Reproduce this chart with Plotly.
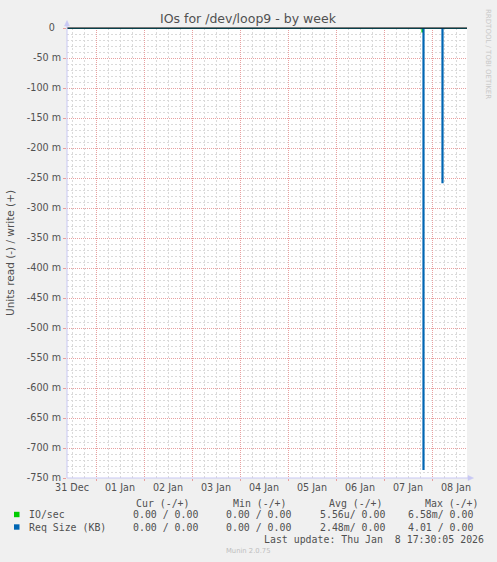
import plotly.graph_objects as go

# ---------------- data ----------------
times = ["2025-12-31 09:30:05", "2026-01-07 19:00:00", "2026-01-07 19:30:00",
         "2026-01-07 20:00:00", "2026-01-08 05:00:00", "2026-01-08 05:30:00",
         "2026-01-08 17:30:05"]
io_read = [0, -0.00658, 0, 0, 0, 0, 0]
io_write = [0, 0, 0, 0, 0, 0, 0]
req_read = [0, 0, -0.7355, 0, -0.2578, 0, 0]
req_write = [0, 0, 0, 0, 0, 0, 0]

x_start = "2025-12-31 09:30:05"
x_end = "2026-01-08 17:30:05"

ytick_vals = [0, -0.05, -0.1, -0.15, -0.2, -0.25, -0.3, -0.35, -0.4, -0.45,
              -0.5, -0.55, -0.6, -0.65, -0.7, -0.75]
ytick_text = ["0\u00a0\u00a0", "-50 m", "-100 m", "-150 m", "-200 m", "-250 m", "-300 m",
              "-350 m", "-400 m", "-450 m", "-500 m", "-550 m", "-600 m",
              "-650 m", "-700 m", "-750 m"]

series_names = ["IO/sec", "Req Size (KB)"]
series_colors = ["#00CC00", "#0066B3"]
col_headers = ["Cur (-/+)", "Min (-/+)", "Avg (-/+)", "Max (-/+)"]
cur_vals = ["0.00 / 0.00", "0.00 / 0.00"]
min_vals = ["0.00 / 0.00", "0.00 / 0.00"]
avg_vals = ["5.56u/ 0.00", "2.48m/ 0.00"]
max_vals = ["6.58m/ 0.00", "4.01 / 0.00"]

title = "IOs for /dev/loop9 - by week"
y_title = "Units read (-) / write (+)"
last_update = "Last update: Thu Jan  8 17:30:05 2026"
footer = "Munin 2.0.75"
side_text = "RRDTOOL / TOBI OETIKER"

# ---------------- layout geometry ----------------
W, H = 497, 562
L, R, T, B = 67, 467, 28, 478


def px(xp):
    return (xp - L) / (R - L)


def py(yp):
    return (B - yp) / (B - T)


SANS = "DejaVu Sans"
MONO = "DejaVu Sans Mono"
TXT = "#505050"
MAJ = "#E8A0A0"
MIN = "#DADADA"
AXC = "#C8C8F4"

fig = go.Figure()
fig.add_trace(go.Scatter(x=times, y=io_read, mode="lines", line=dict(color=series_colors[0], width=1.2, shape="hv"), showlegend=False, hoverinfo="skip"))
fig.add_trace(go.Scatter(x=times, y=io_write, mode="lines", line=dict(color=series_colors[0], width=1.2, shape="hv"), showlegend=False, hoverinfo="skip"))
fig.add_trace(go.Scatter(x=times, y=req_read, mode="lines", line=dict(color=series_colors[1], width=1.2, shape="hv"), showlegend=False, hoverinfo="skip"))
fig.add_trace(go.Scatter(x=times, y=req_write, mode="lines", line=dict(color=series_colors[1], width=1.2, shape="hv"), showlegend=False, hoverinfo="skip"))

shapes = []
# zero line (black)
shapes.append(dict(type="line", xref="paper", yref="paper", x0=0, x1=1, y0=1, y1=1,
                   line=dict(color="#000000", width=1), layer="above"))
# axes with arrows
shapes.append(dict(type="line", xref="paper", yref="paper", x0=0, x1=0, y0=0, y1=py(25),
                   line=dict(color=AXC, width=1), layer="above"))
shapes.append(dict(type="path", xref="paper", yref="paper",
                   path=f"M {px(64.5)},{py(26)} L {px(67)},{py(20.5)} L {px(69.5)},{py(26)} Z",
                   fillcolor=AXC, line=dict(color=AXC, width=0.5), layer="above"))
shapes.append(dict(type="line", xref="paper", yref="paper", x0=0, x1=px(469), y0=0, y1=0,
                   line=dict(color=AXC, width=1), layer="above"))
shapes.append(dict(type="path", xref="paper", yref="paper",
                   path=f"M {px(468)},{py(475.5)} L {px(473.5)},{py(478)} L {px(468)},{py(480.5)} Z",
                   fillcolor=AXC, line=dict(color=AXC, width=0.5), layer="above"))

ann = []
ann.append(dict(text=title, x=px(248.5), y=py(19), xref="paper", yref="paper", showarrow=False,
                xanchor="center", yanchor="middle", font=dict(family=SANS, size=12.5, color=TXT)))
ann.append(dict(text=y_title, x=px(10), y=py(253), xref="paper", yref="paper", showarrow=False,
                textangle=-90, xanchor="center", yanchor="middle", font=dict(family=SANS, size=10.5, color=TXT)))
ann.append(dict(text=side_text, x=px(488), y=py(54), xref="paper", yref="paper", showarrow=False,
                textangle=90, xanchor="center", yanchor="middle", font=dict(family=SANS, size=7, color="#C8C8C8")))

col_x = [134, 231, 327, 423]
val_x = [131, 224, 317.5, 405.5]
for hx, h in zip(col_x, col_headers):
    ann.append(dict(text=h.replace(" ", "&nbsp;"), x=px(hx), y=py(503), xref="paper", yref="paper", showarrow=False,
                    xanchor="left", yanchor="middle", font=dict(family=MONO, size=9.9, color=TXT)))
rows_y = [514.5, 527]
for i, name in enumerate(series_names):
    yy = rows_y[i]
    shapes.append(dict(type="rect", xref="paper", yref="paper", x0=px(14), x1=px(19.5),
                       y0=py(yy + 2.7), y1=py(yy - 2.7), fillcolor=series_colors[i],
                       line=dict(width=0)))
    ann.append(dict(text=name.replace(" ", "&nbsp;"), x=px(26.5), y=py(yy), xref="paper", yref="paper", showarrow=False,
                    xanchor="left", yanchor="middle", font=dict(family=MONO, size=9.9, color=TXT)))
    for vx, v in zip(val_x, [cur_vals[i], min_vals[i], avg_vals[i], max_vals[i]]):
        ann.append(dict(text=v.replace(" ", "&nbsp;"), x=px(vx), y=py(yy), xref="paper", yref="paper", showarrow=False,
                        xanchor="left", yanchor="middle", font=dict(family=MONO, size=9.9, color=TXT)))
ann.append(dict(text=last_update.replace(" ", "&nbsp;"), x=px(261.5), y=py(539.5), xref="paper", yref="paper", showarrow=False,
                xanchor="left", yanchor="middle", font=dict(family=MONO, size=9.9, color=TXT)))
ann.append(dict(text=footer, x=px(247.5), y=py(551), xref="paper", yref="paper", showarrow=False,
                xanchor="center", yanchor="middle", font=dict(family=SANS, size=6.8, color="#BEBEBE")))

fig.update_layout(
    width=W, height=H,
    margin=dict(l=L, r=W - R, t=T, b=H - B, pad=0, autoexpand=False),
    paper_bgcolor="#F0F0F0", plot_bgcolor="#FFFFFF",
    shapes=shapes, annotations=ann, showlegend=False,
    xaxis=dict(type="date", range=[x_start, x_end], tick0="2026-01-01 00:00:00",
               dtick=86400000, tickformat="%d %b", ticklabelmode="period",
               showgrid=True, gridcolor=MAJ, griddash="1px,1px", gridwidth=1,
               ticks="outside", ticklen=2, tickcolor=MAJ, ticklabelstandoff=-2,
               minor=dict(dtick=6 * 3600 * 1000, showgrid=True, gridcolor=MIN, griddash="2px,2px", gridwidth=1),
               showline=False, zeroline=False, fixedrange=True,
               tickfont=dict(family=SANS, size=9.6, color=TXT)),
    yaxis=dict(range=[-0.75, 0], tickmode="linear", tick0=0, dtick=0.05,
               showticklabels=False,
               showgrid=True, gridcolor=MAJ, griddash="1px,1px", gridwidth=1,
               ticks="outside", ticklen=3, tickcolor=MAJ,
               minor=dict(dtick=0.01, showgrid=True, gridcolor=MIN, griddash="2px,2px", gridwidth=1),
               showline=False, zeroline=False, fixedrange=True),
    yaxis2=dict(range=[-0.75, 0], overlaying="y", side="left", tickmode="array",
                tickvals=ytick_vals, ticktext=ytick_text,
                showgrid=False, ticks="", ticklen=3, ticklabelstandoff=5,
                showline=False, zeroline=False, fixedrange=True,
                tickfont=dict(family=SANS, size=9.6, color=TXT)),
)
# invisible helper trace so the label axis is drawn
fig.add_trace(go.Scatter(x=[x_start], y=[0], yaxis="y2", mode="markers",
                         marker=dict(opacity=0), showlegend=False, hoverinfo="skip"))

fig.write_html("out.html", config={"displayModeBar": False},
               post_script="document.body.style.margin='0';document.body.style.background='#F0F0F0';")
